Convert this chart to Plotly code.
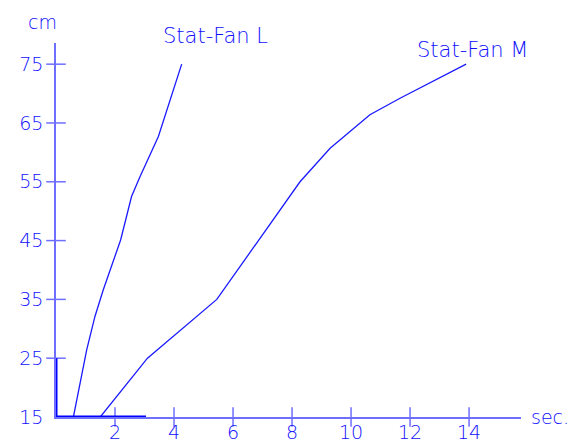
import plotly.graph_objects as go

# ---- data ----
fan_l_sec = [0.59, 0.81, 1.04, 1.32, 1.6, 2.19, 2.56, 2.85, 3.47, 4.26]
fan_l_cm = [15, 20.7, 26.4, 32.1, 36.6, 45.1, 52.5, 55.9, 62.7, 75]

fan_m_sec = [1.5, 3.1, 5.45, 8.27, 9.29, 10.02, 10.64, 11.66, 13.9]
fan_m_cm = [15, 25, 35, 55, 60.7, 63.8, 66.4, 69.2, 75]

y_tick_vals = [15, 25, 35, 45, 55, 65, 75]
y_tick_text = ["15", "25", "35", "45", "55", "65", "75"]
y_cross_ticks = [25, 35, 45, 55, 65, 75]
x_tick_vals = [2, 4, 6, 8, 10, 12, 14]
x_tick_text = ["2", "4", "6", "8", "10", "12", "14"]

# emphasised axis stubs (origin segments)
stub_x_sec = [0, 3.05]
stub_x_cm = [15, 15]
stub_y_sec = [0, 0]
stub_y_cm = [15, 25]

X_RANGE = [0, 15.76]
Y_RANGE = [15, 78.6]

LINE_BLUE = "#1a1aff"
AXIS_BLUE = "#6f6fff"
TEXT_BLUE = "#1010ff"
FONT = "DejaVu Sans, sans-serif"
TXT = dict(family=FONT, color=TEXT_BLUE, size=19, weight=300)

fig = go.Figure()

fig.add_trace(go.Scatter(x=fan_l_sec, y=fan_l_cm, mode="lines",
                         line=dict(color=LINE_BLUE, width=1.3), name="Stat-Fan L",
                         showlegend=False, hoverinfo="skip"))
fig.add_trace(go.Scatter(x=fan_m_sec, y=fan_m_cm, mode="lines",
                         line=dict(color=LINE_BLUE, width=1.3), name="Stat-Fan M",
                         showlegend=False, hoverinfo="skip"))

# crossing tick marks
fig.add_trace(go.Scatter(x=[0] * len(y_cross_ticks), y=y_cross_ticks, mode="markers",
                         marker=dict(symbol="line-ew", size=14,
                                     line=dict(color=AXIS_BLUE, width=1.5)),
                         cliponaxis=False, showlegend=False, hoverinfo="skip"))
fig.add_trace(go.Scatter(x=x_tick_vals, y=[15] * len(x_tick_vals), mode="markers",
                         marker=dict(symbol="line-ns", size=14,
                                     line=dict(color=AXIS_BLUE, width=1.5)),
                         cliponaxis=False, showlegend=False, hoverinfo="skip"))

# thick stubs
fig.add_trace(go.Scatter(x=stub_x_sec, y=stub_x_cm, mode="lines",
                         line=dict(color="#0000ff", width=3),
                         cliponaxis=False, showlegend=False, hoverinfo="skip"))
fig.add_trace(go.Scatter(x=stub_y_sec, y=stub_y_cm, mode="lines",
                         line=dict(color="#0000ff", width=3),
                         cliponaxis=False, showlegend=False, hoverinfo="skip"))

annotations = [
    dict(text="cm", xref="paper", yref="paper", x=-0.03, y=1.056,
         xanchor="center", yanchor="middle", showarrow=False, font=TXT),
    dict(text="sec.", xref="paper", yref="paper", x=1.0, y=0.0, xshift=8,
         xanchor="left", yanchor="middle", showarrow=False, font=TXT),
    dict(text="Stat-Fan L", xref="paper", yref="paper", x=0.342, y=1.019,
         xanchor="center", yanchor="middle", showarrow=False,
         font=dict(TXT, size=21)),
    dict(text="Stat-Fan M", xref="paper", yref="paper", x=0.895, y=0.981,
         xanchor="center", yanchor="middle", showarrow=False,
         font=dict(TXT, size=21)),
]
# x tick labels placed snugly under the axis
for v, t in zip(x_tick_vals, x_tick_text):
    annotations.append(dict(text=t, xref="x", yref="paper", x=v, y=0.0,
                            yshift=-3, xanchor="center", yanchor="top",
                            showarrow=False, font=TXT, borderpad=0))

# page body has an 8px margin, so margins are offset to land the axes
# where the reference has them inside the 586x441 window
fig.update_layout(
    width=586, height=441,
    margin=dict(l=48, r=73, t=35, b=32),
    paper_bgcolor="white", plot_bgcolor="white",
    font=TXT,
    xaxis=dict(range=X_RANGE, showgrid=False, zeroline=False, automargin=False,
               showline=True, linecolor=AXIS_BLUE, linewidth=1.5,
               showticklabels=False, ticks=""),
    yaxis=dict(range=Y_RANGE, showgrid=False, zeroline=False, automargin=False,
               showline=True, linecolor=AXIS_BLUE, linewidth=1.5,
               tickvals=y_tick_vals, ticktext=y_tick_text, ticks="",
               ticklabelstandoff=7, tickfont=TXT),
    annotations=annotations,
)

fig.write_html("out.html")
